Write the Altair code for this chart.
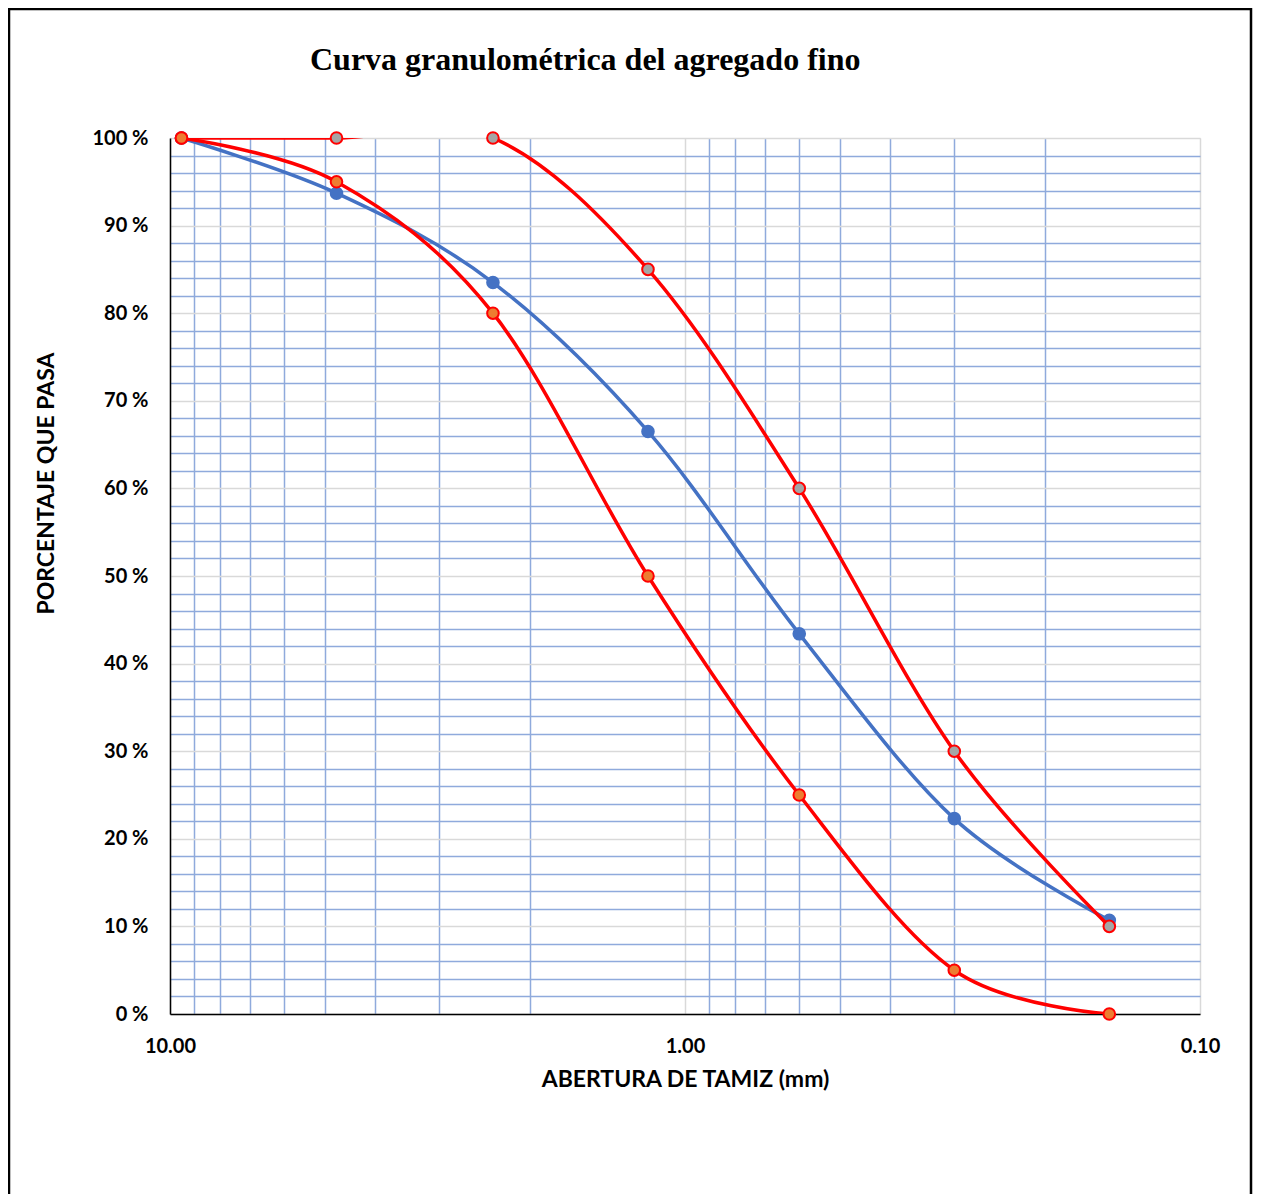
import altair as alt
import pandas as pd

# sieve openings (mm)
sieve_mm = [9.5, 4.75, 2.36, 1.18, 0.60, 0.30, 0.15]
# sample passing (%)
passing = [100.0, 93.7, 83.5, 66.5, 43.4, 22.3, 10.7]
# specification limits (%)
upper_limit = [100, 100, 100, 85, 60, 30, 10]
lower_limit = [100, 95, 80, 50, 25, 5, 0]

x_grid = [10, 9, 8, 7, 6, 5, 4, 3, 2, 1, 0.9, 0.8, 0.7, 0.6, 0.5, 0.4, 0.3, 0.2, 0.1]
y_grid = list(range(0, 101, 2))

df_s = pd.DataFrame({"mm": sieve_mm, "pct": passing})
df_u = pd.DataFrame({"mm": sieve_mm, "pct": upper_limit})
df_l = pd.DataFrame({"mm": sieve_mm, "pct": lower_limit})

BLUE = "#4472C4"
RED = "#FF0000"
ORANGE = "#ED7D31"
GRAY = "#A5A5A5"
GRID_MINOR = "#8FAADC"
GRID_MAJOR = "#D9D9D9"
FONT = "Lato"

is_decade = "abs(log(datum.value)/LN10 - round(log(datum.value)/LN10)) < 1e-6"

x_enc = alt.X(
    "mm:Q",
    scale=alt.Scale(type="log", domain=[0.1, 10], reverse=True, nice=False),
    axis=alt.Axis(
        values=x_grid,
        tickCount=100,
        labelExpr=f"({is_decade}) ? format(datum.value, '.2f') : ''",
        title="ABERTURA DE TAMIZ (mm)",
        grid=True,
        gridColor={"condition": {"test": is_decade, "value": GRID_MAJOR}, "value": GRID_MINOR},
        gridWidth=1.5,
        ticks=False,
        domainColor="black",
        domainWidth=1.5,
        labelFont=FONT, labelFontSize=20, labelFontWeight="bold", labelColor="black",
        labelPadding=22, labelFlush=False, labelOverlap=False,
        titleFont=FONT, titleFontSize=23, titleFontWeight="bold", titleColor="black",
        titleY=72, titleBaseline="alphabetic",
    ),
)
y_enc = alt.Y(
    "pct:Q",
    scale=alt.Scale(domain=[0, 100], nice=False),
    axis=alt.Axis(
        values=y_grid,
        tickCount=100,
        labelExpr="datum.value % 10 == 0 ? datum.value + ' %' : ''",
        title="PORCENTAJE QUE PASA",
        grid=True,
        gridColor={"condition": {"test": "datum.value % 10 == 0", "value": GRID_MAJOR}, "value": GRID_MINOR},
        gridWidth=1.5,
        ticks=False,
        domainColor="black",
        domainWidth=1.5,
        labelFont=FONT, labelFontSize=20, labelFontWeight="bold", labelColor="black",
        labelPadding=22, labelOverlap=False,
        titleFont=FONT, titleFontSize=23, titleFontWeight="bold", titleColor="black",
        titleAngle=270, titleX=-124, titleY=345, titleAlign="center", titleBaseline="middle",
    ),
)

frame = alt.Chart(alt.Data(values=[{}])).mark_rect(
    fillOpacity=0, stroke="black", strokeWidth=2.5, clip=False
).encode(
    x=alt.value(-161), x2=alt.value(1081), y=alt.value(-129), y2=alt.value(1080)
)

line_s = alt.Chart(df_s).mark_line(color=BLUE, strokeWidth=3.5, interpolate="cardinal", clip=True).encode(x=x_enc, y=y_enc)
pts_s = alt.Chart(df_s).mark_circle(color=BLUE, size=185, opacity=1).encode(x="mm:Q", y="pct:Q")

line_u = alt.Chart(df_u).mark_line(color=RED, strokeWidth=3.5, interpolate="cardinal", clip=True).encode(x="mm:Q", y="pct:Q")
pts_u = alt.Chart(df_u).mark_point(filled=True, fill=GRAY, stroke=RED, strokeWidth=2, size=135, opacity=1, shape="circle").encode(x="mm:Q", y="pct:Q")

line_l = alt.Chart(df_l).mark_line(color=RED, strokeWidth=3.5, interpolate="cardinal", clip=True).encode(x="mm:Q", y="pct:Q")
pts_l = alt.Chart(df_l).mark_point(filled=True, fill=ORANGE, stroke=RED, strokeWidth=2, size=135, opacity=1, shape="circle").encode(x="mm:Q", y="pct:Q")

chart = alt.layer(
    line_s, pts_s, line_u, line_l, pts_u, pts_l, frame
).properties(
    width=1030,
    height=876,
    autosize="none",
    padding={"left": 162, "top": 130, "right": 53, "bottom": 180},
    title=alt.TitleParams(
        "Curva granulométrica del agregado fino",
        font="Liberation Serif", fontSize=32, fontWeight="bold", color="black",
        anchor="start", frame="group", dx=140, offset=0, dy=69,
    ),
).configure_view(stroke=GRID_MAJOR, strokeWidth=1.5).configure(background="white")

chart.save("out.html", embed_options={"renderer": "svg", "actions": False})
